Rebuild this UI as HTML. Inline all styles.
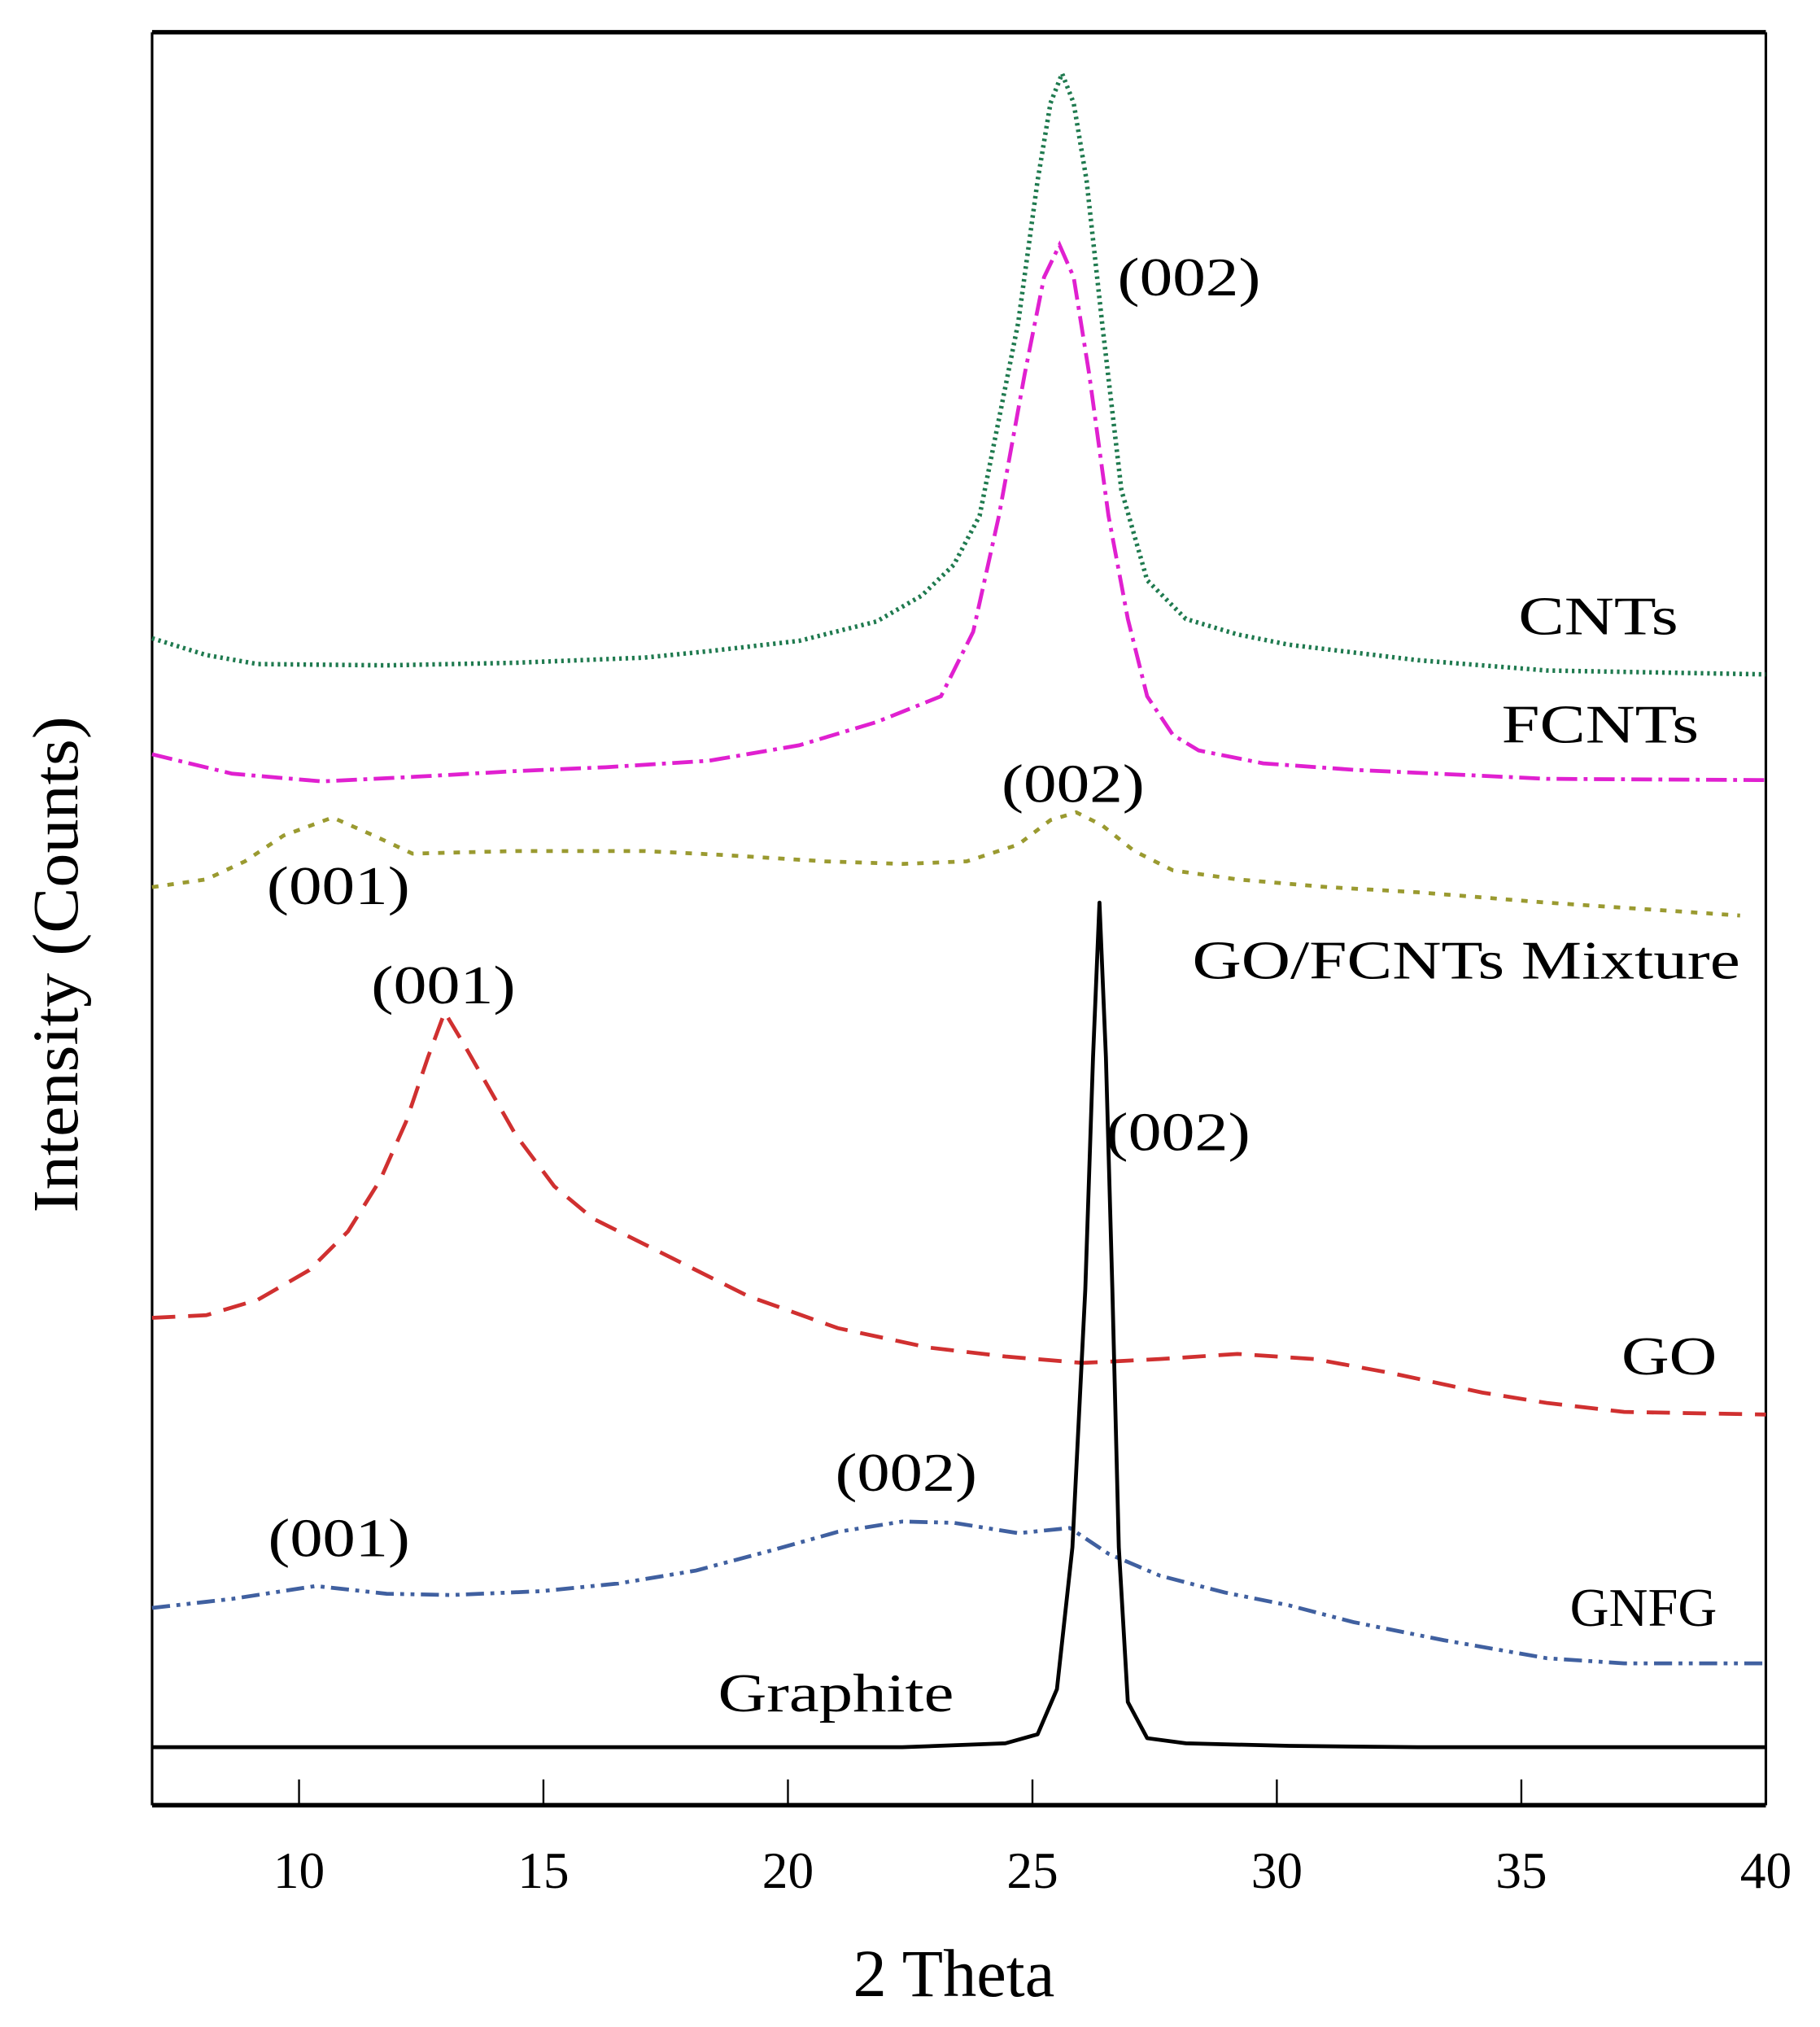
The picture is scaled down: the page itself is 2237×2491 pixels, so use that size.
<!DOCTYPE html>
<html><head><meta charset="utf-8"><style>html,body{margin:0;padding:0;background:#fff}svg{display:block}</style></head><body>
<svg width="2237" height="2491" viewBox="0 0 1412 1572" preserveAspectRatio="none" xmlns="http://www.w3.org/2000/svg" font-family="Liberation Serif, serif" fill="none">
<rect x="0" y="0" width="1412" height="1572" fill="#fff"/>
<line x1="118" y1="25" x2="1370" y2="25" stroke="#000" stroke-width="3.5"/>
<line x1="118" y1="25" x2="118" y2="1400" stroke="#000" stroke-width="2"/>
<line x1="1370" y1="25" x2="1370" y2="1400" stroke="#000" stroke-width="2"/>
<line x1="118" y1="1400" x2="1370" y2="1400" stroke="#000" stroke-width="3.5"/>
<g stroke="#000" stroke-width="1.5">
<line x1="232" y1="1380" x2="232" y2="1400"/><line x1="421.6" y1="1380" x2="421.6" y2="1400"/>
<line x1="611.3" y1="1380" x2="611.3" y2="1400"/><line x1="801" y1="1380" x2="801" y2="1400"/>
<line x1="990.6" y1="1380" x2="990.6" y2="1400"/><line x1="1180.3" y1="1380" x2="1180.3" y2="1400"/>
</g>
<g fill="#000" font-size="40" text-anchor="middle">
<text x="232" y="1464">10</text><text x="421.6" y="1464">15</text><text x="611.3" y="1464">20</text>
<text x="801" y="1464">25</text><text x="990.6" y="1464">30</text><text x="1180.3" y="1464">35</text><text x="1370" y="1464">40</text>
<text x="740" y="1548" font-size="52">2 Theta</text>
<text transform="translate(60,748) rotate(-90)" font-size="50" textLength="385" lengthAdjust="spacingAndGlyphs">Intensity (Counts)</text>
</g>
<polyline stroke="#1f7a4f" stroke-width="3.5" stroke-dasharray="2,3" points="118,495 160,508 200,515 300,516 400,514 500,510 550,505 620,497 680,482 715,462 740,438 760,400 790,250 805,140 815,80 824,57 833,80 843,140 855,250 870,380 890,450 920,480 960,492 1000,500 1100,512 1200,520 1370,523"/>
<polyline stroke="#e020d0" stroke-width="3" stroke-dasharray="16,5,3,5" points="118,585 180,600 250,606 330,602 400,598 470,595 550,590 620,578 680,560 730,540 755,490 775,400 795,290 810,215 822,190 833,215 845,290 860,400 875,480 890,540 910,570 930,582 980,592 1050,597 1200,604 1370,605"/>
<polyline stroke="#9a9a30" stroke-width="3" stroke-dasharray="5,7" points="118,688 160,682 190,668 220,648 258,634 290,648 320,662 400,660 500,660 560,663 640,668 700,670 750,668 790,655 815,636 835,630 855,640 880,660 910,675 960,682 1030,688 1100,692 1200,700 1350,710"/>
<polyline stroke="#d03030" stroke-width="3" stroke-dasharray="18,10" points="118,1022 160,1020 200,1008 240,985 270,955 295,915 315,870 332,820 345,785 360,810 380,845 400,880 430,920 460,945 520,975 580,1005 650,1030 720,1045 780,1052 840,1057 900,1054 960,1050 1020,1054 1080,1065 1150,1080 1200,1088 1260,1095 1370,1097"/>
<polyline stroke="#4060a0" stroke-width="3" stroke-dasharray="14,5,3,5,3,5" points="118,1247 180,1240 245,1230 300,1236 350,1237 420,1234 480,1228 540,1218 600,1202 650,1188 700,1180 740,1181 790,1189 830,1185 860,1205 900,1222 950,1235 1000,1245 1050,1258 1120,1272 1200,1286 1260,1290 1370,1290"/>
<polyline stroke="#000" stroke-width="3" stroke-linejoin="round" points="118,1355 400,1355 700,1355 780,1352 805,1345 820,1310 832,1200 842,1000 848,820 853,700 858,820 863,1000 868,1200 875,1320 890,1348 920,1352 1000,1354 1100,1355 1370,1355"/>
<g fill="#000" font-size="42" lengthAdjust="spacingAndGlyphs">
<text x="867" y="229" textLength="111" lengthAdjust="spacingAndGlyphs">(002)</text>
<text x="1178" y="492" textLength="124" lengthAdjust="spacingAndGlyphs">CNTs</text>
<text x="1165" y="576" textLength="153" lengthAdjust="spacingAndGlyphs">FCNTs</text>
<text x="777" y="622" textLength="111" lengthAdjust="spacingAndGlyphs">(002)</text>
<text x="207" y="701" textLength="111" lengthAdjust="spacingAndGlyphs">(001)</text>
<text x="925" y="759" textLength="425" lengthAdjust="spacingAndGlyphs">GO/FCNTs Mixture</text>
<text x="288" y="778" textLength="112" lengthAdjust="spacingAndGlyphs">(001)</text>
<text x="858" y="892" textLength="112" lengthAdjust="spacingAndGlyphs">(002)</text>
<text x="1258" y="1066" textLength="74" lengthAdjust="spacingAndGlyphs">GO</text>
<text x="648" y="1156" textLength="110" lengthAdjust="spacingAndGlyphs">(002)</text>
<text x="208" y="1207" textLength="110" lengthAdjust="spacingAndGlyphs">(001)</text>
<text x="1218" y="1261" textLength="114" lengthAdjust="spacingAndGlyphs">GNFG</text>
<text x="557" y="1327" textLength="183" lengthAdjust="spacingAndGlyphs">Graphite</text>
</g>
</svg>
</body></html>
